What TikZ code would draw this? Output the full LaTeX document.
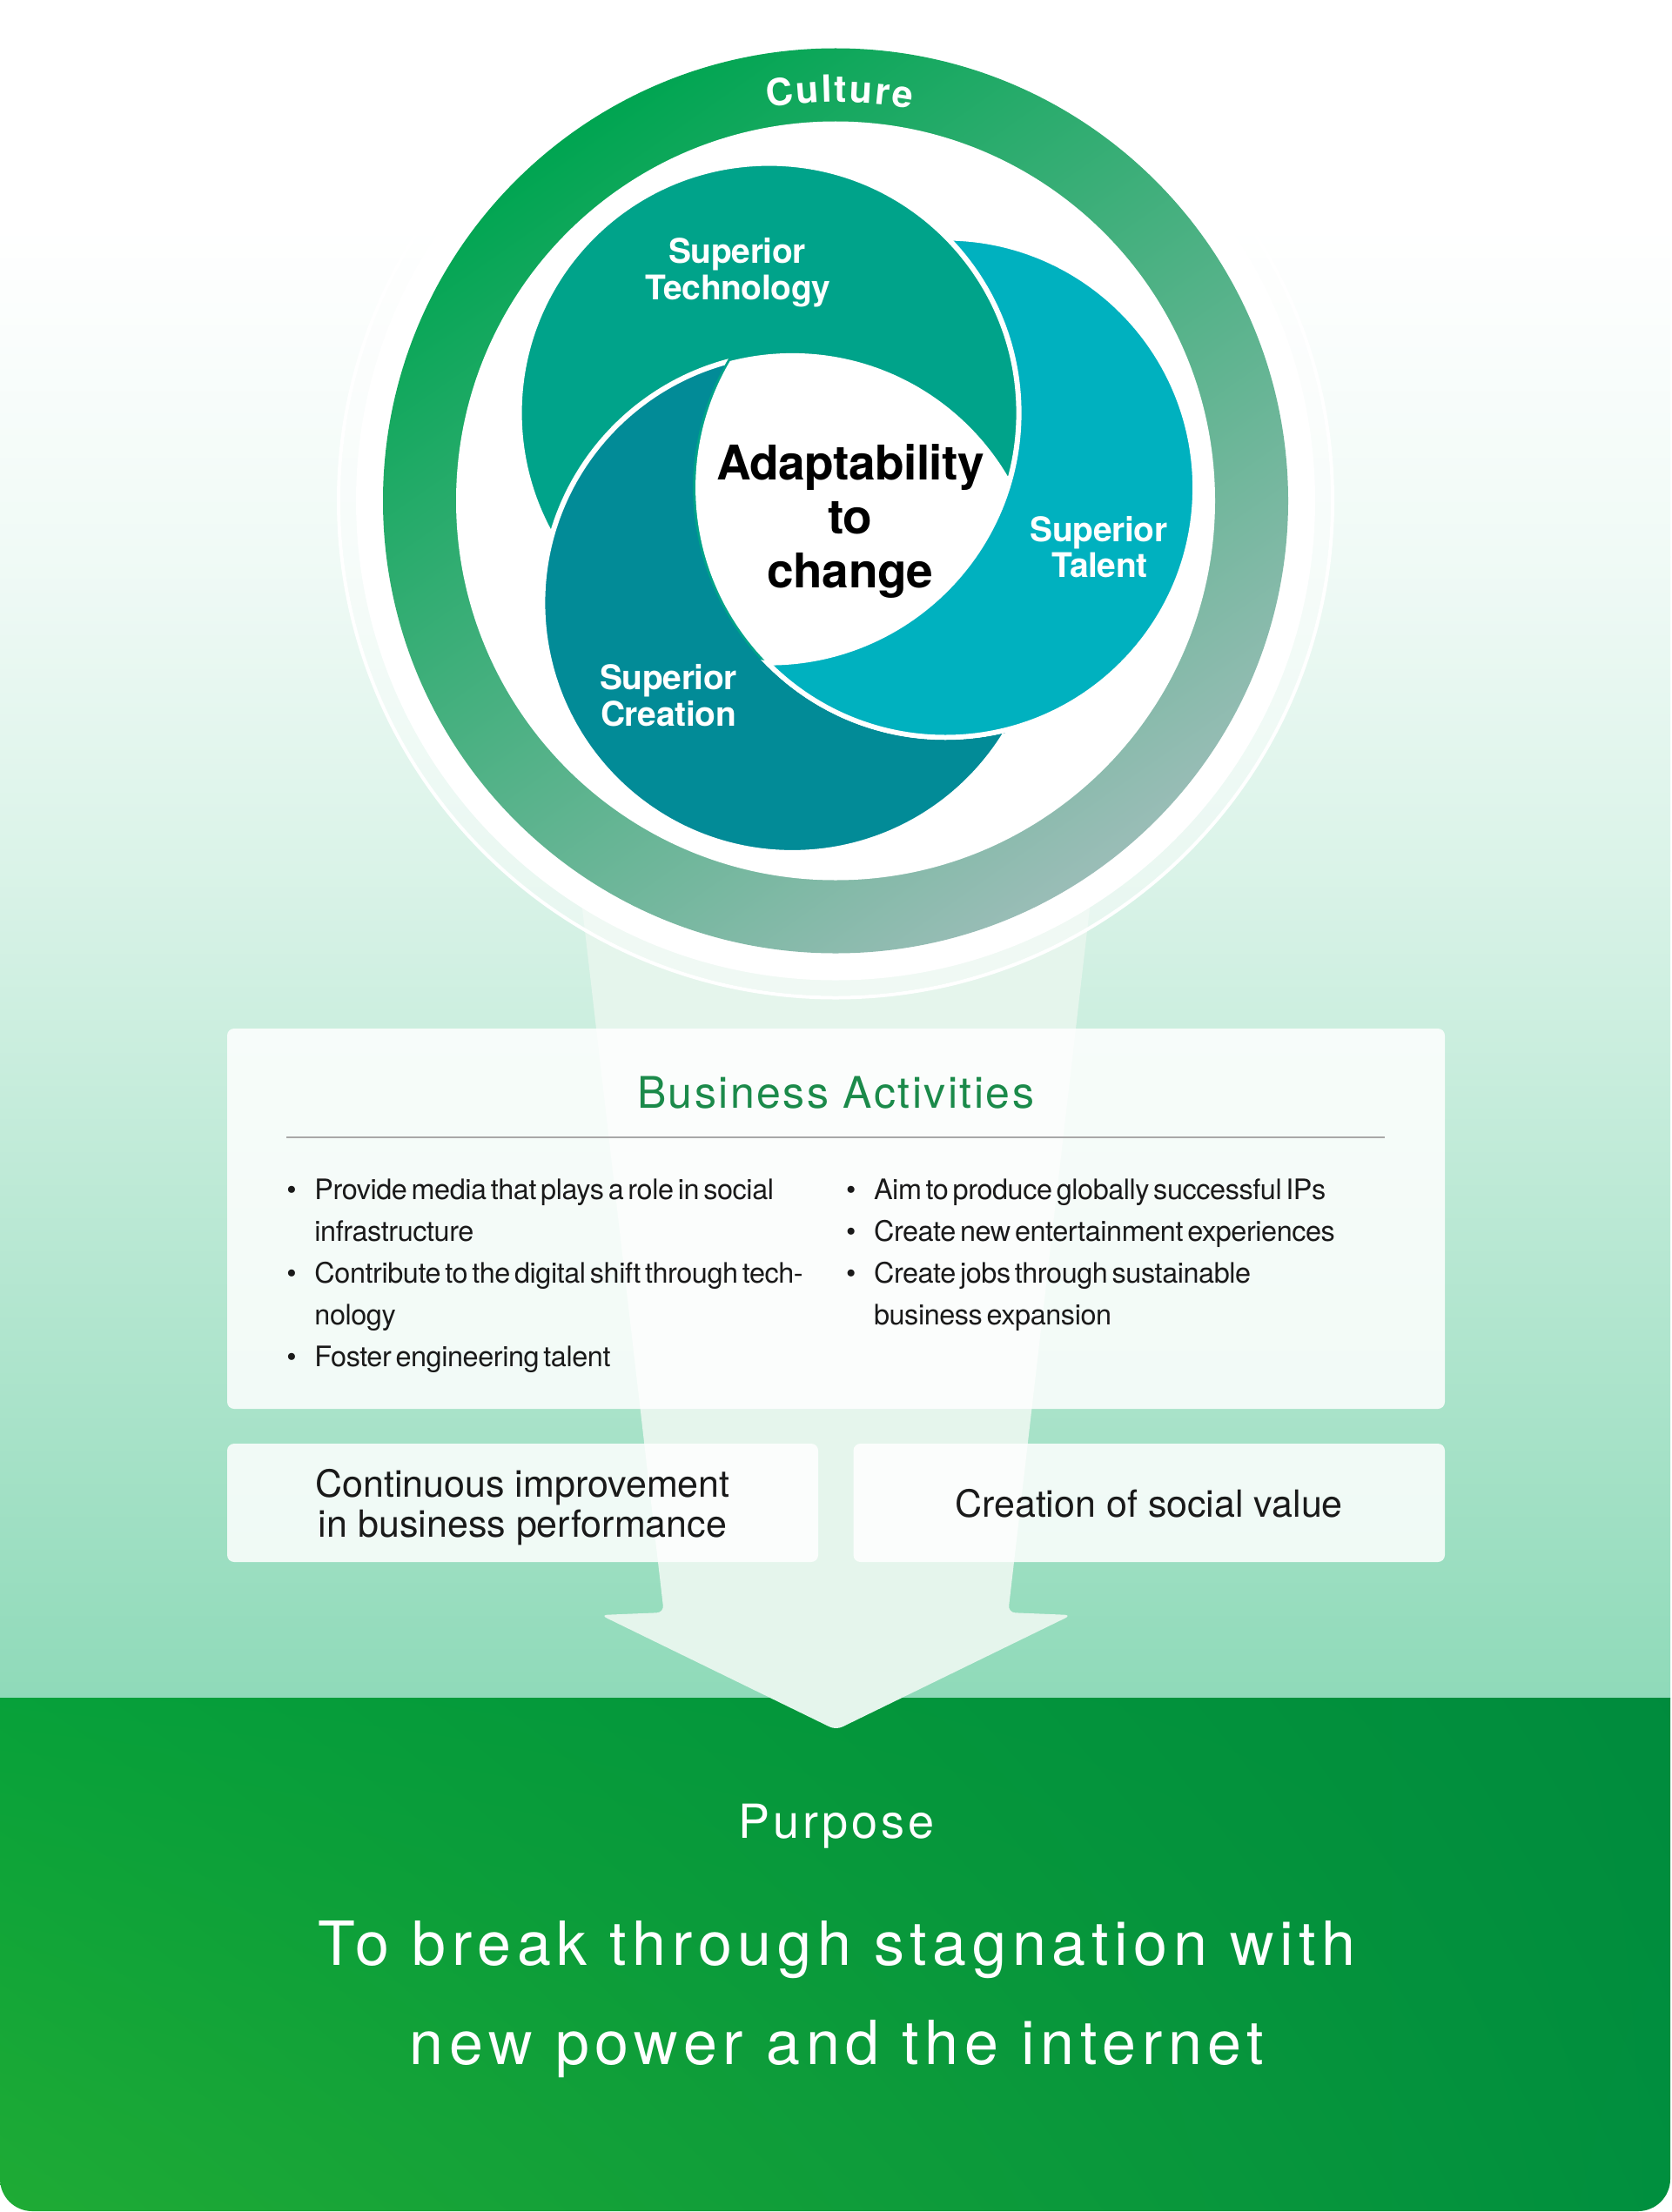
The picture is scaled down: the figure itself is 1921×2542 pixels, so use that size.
\documentclass[tikz,border=0pt]{standalone}
\usepackage{fontspec}
\setmainfont{TeX Gyre Heros}
\newfontfamily\bodyfam{TeX Gyre Heros}[LetterSpace=-1.3,WordSpace=0.55]
\newfontfamily\titlefam{TeX Gyre Heros}[LetterSpace=5]
\newfontfamily\valuefam{TeX Gyre Heros}
\newfontfamily\swirlfam{TeX Gyre Heros}[LetterSpace=-1]
\newfontfamily\purposefam{TeX Gyre Heros}[LetterSpace=7]
\newfontfamily\missionfam{TeX Gyre Heros}[LetterSpace=9.6]
\usetikzlibrary{shadings}

\definecolor{ctech}{HTML}{00A38A}
\definecolor{ctalent}{HTML}{00B1BF}
\definecolor{ccreation}{HTML}{028B97}
\definecolor{ringA}{HTML}{00A551}
\definecolor{ringM}{HTML}{3CB080}
\definecolor{ringB}{HTML}{9ABDB7}
\definecolor{bgA}{HTML}{F0FAF6}
\definecolor{bgB}{HTML}{DAF3E8}
\definecolor{bgC}{HTML}{8FDAB9}
\definecolor{arrowc}{HTML}{E5F5EC}
\definecolor{titlegreen}{HTML}{1B8A4A}
\definecolor{textdark}{HTML}{1A1A1A}
\definecolor{gUL}{HTML}{05A03A}
\definecolor{gUR}{HTML}{008B3D}
\definecolor{gLL}{HTML}{1FAB35}
\definecolor{gLR}{HTML}{008F3E}
\definecolor{rulegray}{HTML}{A8A8A8}

\begin{document}
\begin{tikzpicture}[x=0.5pt,y=-0.5pt,
  bodytxt/.style={font=\bodyfam\fontsize{16.2pt}{20pt}\selectfont, text=textdark, inner sep=0pt, anchor=base west},
  bul/.style={font=\bodyfam\fontsize{16.2pt}{20pt}\selectfont, text=textdark, inner sep=0pt, anchor=base},
  valuetxt/.style={font=\valuefam\fontsize{21.5pt}{24pt}\selectfont, text=textdark, inner sep=0pt, anchor=base},
  swirllbl/.style={font=\swirlfam\bfseries\fontsize{19.5pt}{20pt}\selectfont, text=white, inner sep=0pt, anchor=base},
  centerlbl/.style={font=\swirlfam\bfseries\fontsize{27.5pt}{30pt}\selectfont, text=black, inner sep=0pt, anchor=base},
  culturelbl/.style={font=\bfseries\fontsize{21.5pt}{22pt}\selectfont, text=white, inner sep=0pt, anchor=base},
  lobe/.style={draw=white, line width=3pt},
  panel/.style={fill=white, fill opacity=0.85, rounded corners=4pt},
]
\useasboundingbox (0,0) rectangle (1921,2542);
\fill[white] (0,0) rectangle (1921,2542);

% background gradient
\shade[top color=white, bottom color=bgA] (0,258) rectangle (1919,640);
\shade[top color=bgA, bottom color=bgB] (0,639) rectangle (1919,1001);
\shade[top color=bgB, bottom color=bgC] (0,1000) rectangle (1919,1952);

% purpose box
\begin{scope}
  \clip (0,1951) rectangle (1919,2542);
  \shade[shading=bilinear interpolation, upper left=gUL, upper right=gUR,
         lower left=gLL, lower right=gLR, rounded corners=18.5pt]
        (0,1900) rectangle (1919,2541);
\end{scope}

% big arrow
\fill[arrowc, rounded corners=4pt] (629.2,700) -- (762.7,1853) -- (690,1856)
  -- (960.5,1988) -- (1231,1856) -- (1158.3,1853) -- (1291.8,700) -- cycle;

% halo
\fill[white, opacity=0.45] (960,575.5) circle (569);
\draw[white, line width=2pt] (960,575.5) circle (571);
\fill[white] (960,575.5) circle (551);

% culture ring
\shade[top color=ringA, middle color=ringM, bottom color=ringB, shading angle=35]
  (960,575.5) circle (520);
\fill[white] (960,575.5) circle (436);

% swirl
\coordinate (cT) at (883.6,474.6);
\coordinate (cL) at (1086.1,560.5);
\coordinate (cC) at (910.4,692.9);
\filldraw[lobe, fill=ccreation] (cC) circle (287);
\filldraw[lobe, fill=ctalent] (cL) circle (287);
\filldraw[lobe, fill=ctech] (cT) circle (287);
\begin{scope}[even odd rule]
  \clip (0,0) rectangle (1921,2542) (cL) circle (290);
  \filldraw[lobe, fill=ccreation] (cC) circle (287);
\end{scope}
\begin{scope}
  \clip (cT) circle (287);
  \clip (cL) circle (287);
  \fill[white] (cC) circle (287);
\end{scope}

% culture label
\foreach \ch/\a [count=\i] in {C/-8.375, u/-4.491, l/-1.795, t/0.150, u/2.990, r/5.980, e/8.820}{
  \node[culturelbl, rotate={0-\a}] (cul\i) at ({960+458*sin(\a+0.6)}, {575.5-458*cos(\a+0.6)}) {\ch};
}

% swirl labels
\node[swirllbl] (tech1) at (847,302.2) {Superior};
\node[swirllbl] (tech2) at (848,344.7) {Technology};
\node[swirllbl] (tal1) at (1262.5,622) {Superior};
\node[swirllbl] (tal2) at (1263.5,663.7) {Talent};
\node[swirllbl] (cre1) at (768,792) {Superior};
\node[swirllbl] (cre2) at (768,834.6) {Creation};

\node[centerlbl] (ad1) at (977,551.7) {Adaptability};
\node[centerlbl] (ad2) at (977,613.3) {to};
\node[centerlbl] (ad3) at (977,675) {change};

% business activities panel
\fill[panel] (261,1182) rectangle (1660,1619);
\fill[panel] (261,1659) rectangle (940,1795);
\fill[panel] (980.5,1659) rectangle (1660,1795);

\node[font=\titlefam\fontsize{25pt}{28pt}\selectfont, text=titlegreen, inner sep=0pt, anchor=base]
  (batitle) at (960,1273) {Business Activities};
\coordinate (ruleL) at (329,1307);
\coordinate (ruleR) at (1591,1307);
\draw[rulegray, line width=1pt] (ruleL) -- (ruleR);

\node[bul] (b1) at (335,1378.6) {•};
\node[bodytxt] (l1) at (361,1378.6) {Provide media that plays a role in social};
\node[bodytxt] (l2) at (361,1426.5) {infrastructure};
\node[bul] (b2) at (335,1474.5) {•};
\node[bodytxt] (l3) at (361,1474.5) {Contribute to the digital shift through tech-};
\node[bodytxt] (l4) at (361,1522.5) {nology};
\node[bul] (b3) at (335,1570.5) {•};
\node[bodytxt] (l5) at (361,1570.5) {Foster engineering talent};

\node[bul] (b4) at (977.8,1378.6) {•};
\node[bodytxt] (r1) at (1003.6,1378.6) {Aim to produce globally successful IPs};
\node[bul] (b5) at (977.8,1426.5) {•};
\node[bodytxt] (r2) at (1003.6,1426.5) {Create new entertainment experiences};
\node[bul] (b6) at (977.8,1474.5) {•};
\node[bodytxt] (r3) at (1003.6,1474.5) {Create jobs through sustainable};
\node[bodytxt] (r4) at (1003.6,1522.5) {business expansion};

\node[valuetxt] (v1) at (600.5,1720.5) {Continuous improvement};
\node[valuetxt] (v2) at (600.5,1766) {in business performance};
\node[valuetxt] (v3) at (1320,1743) {Creation of social value};

% purpose
\node[font=\purposefam\fontsize{27pt}{30pt}\selectfont, text=white, inner sep=0pt, anchor=base]
  (purpose) at (961,2112) {Purpose};
\node[font=\missionfam\fontsize{35pt}{38pt}\selectfont, text=white, inner sep=0pt, anchor=base]
  (m1) at (961.5,2258) {To break through stagnation with};
\node[font=\missionfam\fontsize{35pt}{38pt}\selectfont, text=white, inner sep=0pt, anchor=base]
  (m2) at (961.5,2372.7) {new power and the internet};
\end{tikzpicture}
\end{document}
